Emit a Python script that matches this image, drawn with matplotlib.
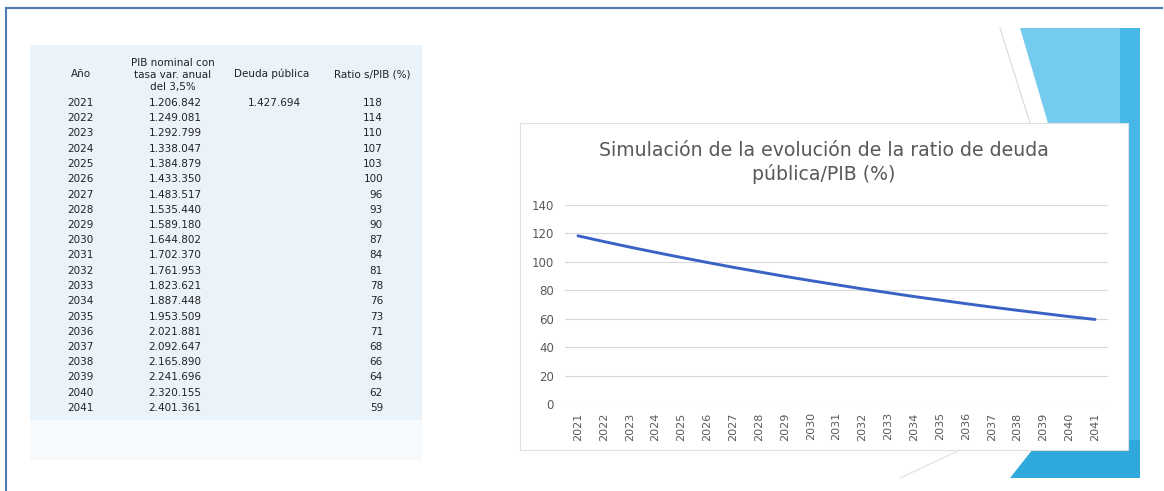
import matplotlib.pyplot as plt
from matplotlib.patches import Rectangle, Polygon

# Data
years = list(range(2021, 2042))
pib_nominal = ["1.206.842", "1.249.081", "1.292.799", "1.338.047", "1.384.879",
               "1.433.350", "1.483.517", "1.535.440", "1.589.180", "1.644.802",
               "1.702.370", "1.761.953", "1.823.621", "1.887.448", "1.953.509",
               "2.021.881", "2.092.647", "2.165.890", "2.241.696", "2.320.155",
               "2.401.361"]
deuda = ["1.427.694"] + [""] * 20
ratio = [118, 114, 110, 107, 103, 100, 96, 93, 90, 87, 84, 81, 78, 76, 73,
         71, 68, 66, 64, 62, 59]
# line in the chart (unrounded values as drawn)
ratio_line = [118.3, 114.3, 110.4, 106.7, 103.1, 99.6, 96.2, 93.0, 89.8, 86.8,
              83.9, 81.0, 78.3, 75.6, 73.1, 70.6, 68.2, 65.9, 63.7, 61.5, 59.5]

W, H = 1164, 491
fig = plt.figure(figsize=(W / 100, H / 100), dpi=100)

# background layer in pixel coordinates
bg = fig.add_axes([0, 0, 1, 1])
bg.set_xlim(0, W)
bg.set_ylim(H, 0)
bg.axis("off")

# slide decoration on the right
bg.add_patch(Polygon([(1020, 28), (1140, 28), (1140, 478), (1075, 478), (1100, 300)],
                     closed=True, fc="#74cbee", ec="none"))
bg.add_patch(Polygon([(1120, 28), (1140, 28), (1140, 478), (1120, 478)],
                     closed=True, fc="#45b8e8", ec="none"))
bg.add_patch(Polygon([(1010, 478), (1040, 440), (1140, 440), (1140, 478)],
                     closed=True, fc="#2fa9dc", ec="none"))
bg.plot([1000, 1030], [28, 123], color="#d8d8d8", lw=0.8)
bg.plot([900, 960], [478, 450], color="#e0e0e0", lw=0.8)

# slide frame
bg.plot([6, 6], [8, H], color="#4f7bb5", lw=1.5)
bg.plot([6, 1162], [8, 8], color="#4f7bb5", lw=1.5)

# table
bg.add_patch(Rectangle((30, 45), 392, 375, fc="#eaf3fa", ec="none"))
bg.add_patch(Rectangle((30, 420), 392, 40, fc="#f6fafd", ec="none"))
tk = dict(fontsize=7.5, color="#222222", va="center")
bg.text(81, 74, "Año", ha="center", **tk)
bg.text(173, 75, "PIB nominal con\ntasa var. anual\ndel 3,5%", ha="center",
        linespacing=1.3, **tk)
bg.text(272, 74, "Deuda pública", ha="center", **tk)
bg.text(372, 74, "Ratio s/PIB (%)", ha="center", **tk)
row_y0, row_dy = 103, 15.25
for i, yr in enumerate(years):
    y = row_y0 + i * row_dy
    bg.text(80, y, str(yr), ha="center", **tk)
    bg.text(175, y, pib_nominal[i], ha="center", **tk)
    bg.text(274, y, deuda[i], ha="center", **tk)
    bg.text(383, y, str(ratio[i]), ha="right", **tk)

# chart box
bg.add_patch(Rectangle((520, 123), 608, 327, fc="white", ec="#e0e0e0", lw=0.8))
fig.text(824 / W, 1 - 163 / H,
         "Simulación de la evolución de la ratio de deuda\npública/PIB (%)",
         ha="center", va="center", fontsize=13.6, color="#595959", linespacing=1.25)

ax = fig.add_axes([565 / W, 1 - 404 / H, 543 / W, 199 / H])
ax.patch.set_alpha(0)
x = range(len(years))
ax.plot(x, ratio_line, color="#3a62c4", lw=2.1, solid_capstyle="round")
ax.set_xlim(-0.5, len(years) - 0.5)
ax.set_ylim(0, 140)
ax.set_yticks(range(0, 141, 20))
ax.set_xticks(list(x))
ax.set_xticklabels([str(y) for y in years], rotation=90)
ax.grid(axis="y", color="#d9d9d9", lw=0.8)
ax.set_axisbelow(True)
for s in ax.spines.values():
    s.set_visible(False)
ax.tick_params(axis="y", length=0, pad=8, labelsize=8.5, labelcolor="#595959")
ax.tick_params(axis="x", length=0, pad=6, labelsize=8, labelcolor="#595959")

fig.savefig("out.png", dpi=100)
